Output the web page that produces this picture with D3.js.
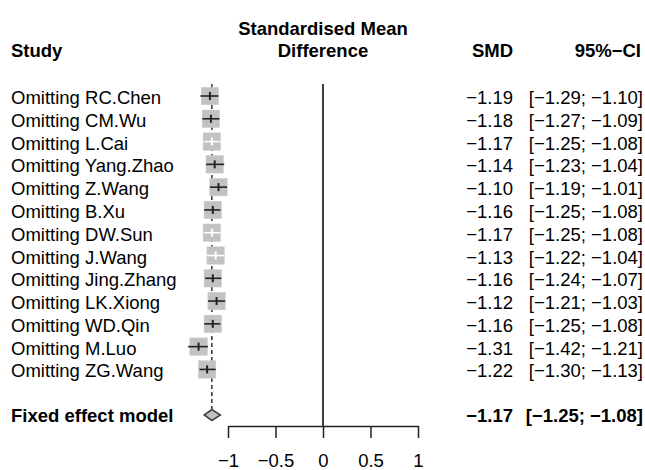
<!DOCTYPE html>
<html>
<head>
<meta charset="utf-8">
<script src="https://cdn.jsdelivr.net/npm/d3@7"></script>
<style>
  html, body { margin: 0; padding: 0; background: #fff; }
  svg { display: block; font-family: "Liberation Sans", Arial, Helvetica, sans-serif; }
</style>
</head>
<body>
<svg id="chart" width="645" height="470"></svg>
<script>
// ---- data ----
const studies = ["RC.Chen", "CM.Wu", "L.Cai", "Yang.Zhao", "Z.Wang", "B.Xu", "DW.Sun",
                 "J.Wang", "Jing.Zhang", "LK.Xiong", "WD.Qin", "M.Luo", "ZG.Wang"];
const smd   = [-1.19, -1.18, -1.17, -1.14, -1.10, -1.16, -1.17, -1.13, -1.16, -1.12, -1.16, -1.31, -1.22];
const ciLow = [-1.29, -1.27, -1.25, -1.23, -1.19, -1.25, -1.25, -1.22, -1.24, -1.21, -1.25, -1.42, -1.30];
const ciHigh= [-1.10, -1.09, -1.08, -1.04, -1.01, -1.08, -1.08, -1.04, -1.07, -1.03, -1.08, -1.21, -1.13];
// CI contained inside the box (drawn in white in the reference)
const ciInsideBox = [false, false, true, false, false, false, true, true, false, false, false, false, false];
const pooled = { label: "Fixed effect model", smd: -1.17, low: -1.25, high: -1.08 };
const xTicks = [-1, -0.5, 0, 0.5, 1];

// ---- layout ----
const svg = d3.select("#chart");
const FS = 18.5;
const x = d3.scaleLinear().domain([-1, 1]).range([228, 418]);
const y = d3.scaleLinear().domain([0, 14]).range([96, 415]);
const axisY = 426;
const box = 17.5;

const minus = s => s.replace(/-/g, "\u2212");
const fmt = v => minus(v.toFixed(2));
const fmtTick = v => minus(String(v));

// headers
const hdr = svg.append("g").attr("font-weight", "bold").attr("font-size", FS).attr("fill", "#000");
hdr.append("text").attr("x", 11).attr("y", 57).text("Study");
hdr.append("text").attr("x", x(0)).attr("y", 35).attr("text-anchor", "middle").text("Standardised Mean");
hdr.append("text").attr("x", x(0)).attr("y", 57).attr("text-anchor", "middle").text("Difference");
hdr.append("text").attr("x", 513).attr("y", 57).attr("text-anchor", "end").text("SMD");
hdr.append("text").attr("x", 641).attr("y", 57).attr("text-anchor", "end").text("95%\u2212CI");

// reference line at 0
svg.append("line")
  .attr("x1", x(0)).attr("x2", x(0))
  .attr("y1", 84).attr("y2", axisY)
  .attr("stroke", "#000").attr("stroke-width", 1.5);

// dashed pooled line
svg.append("line")
  .attr("x1", x(pooled.smd)).attr("x2", x(pooled.smd))
  .attr("y1", 84).attr("y2", y(14) - 6)
  .attr("stroke", "#333").attr("stroke-width", 1.5)
  .attr("stroke-dasharray", "4,3");

// study rows
const rows = svg.append("g");
studies.forEach((s, i) => {
  const cy = y(i);
  rows.append("text").attr("x", 11).attr("y", cy + 8)
    .attr("font-size", FS).attr("fill", "#000").text("Omitting " + s);
  rows.append("rect")
    .attr("x", x(smd[i]) - box / 2).attr("y", cy - box / 2)
    .attr("width", box).attr("height", box)
    .attr("fill", "#c2c2c2").attr("stroke", "#d0d0d0").attr("stroke-width", 0.5);
  const col = ciInsideBox[i] ? "#ffffff" : "#222";
  rows.append("line")
    .attr("x1", x(ciLow[i])).attr("x2", x(ciHigh[i]))
    .attr("y1", cy).attr("y2", cy)
    .attr("stroke", col).attr("stroke-width", 1.6);
  rows.append("line")
    .attr("x1", x(smd[i])).attr("x2", x(smd[i]))
    .attr("y1", cy - 4).attr("y2", cy + 4)
    .attr("stroke", col).attr("stroke-width", 2);
  rows.append("text").attr("x", 513).attr("y", cy + 8).attr("text-anchor", "end")
    .attr("font-size", FS).attr("fill", "#000").text(fmt(smd[i]));
  rows.append("text").attr("x", 643).attr("y", cy + 8).attr("text-anchor", "end")
    .attr("font-size", FS).attr("fill", "#000")
    .text("[" + fmt(ciLow[i]) + "; " + fmt(ciHigh[i]) + "]");
});

// pooled row
const py = y(14);
svg.append("text").attr("x", 11).attr("y", py + 7)
  .attr("font-size", FS).attr("font-weight", "bold").attr("fill", "#000").text(pooled.label);
svg.append("path")
  .attr("d", `M${x(pooled.low)},${py} L${x(pooled.smd)},${py - 5.5} L${x(pooled.high)},${py} L${x(pooled.smd)},${py + 5.5} Z`)
  .attr("fill", "#c2c2c2").attr("stroke", "#444").attr("stroke-width", 1.6);
svg.append("text").attr("x", 513).attr("y", py + 7).attr("text-anchor", "end")
  .attr("font-size", FS).attr("font-weight", "bold").attr("fill", "#000").text(fmt(pooled.smd));
svg.append("text").attr("x", 643).attr("y", py + 7).attr("text-anchor", "end")
  .attr("font-size", FS).attr("font-weight", "bold").attr("fill", "#000")
  .text("[" + fmt(pooled.low) + "; " + fmt(pooled.high) + "]");

// x axis
const axis = d3.axisBottom(x).tickValues(xTicks).tickSize(12).tickSizeOuter(0).tickFormat(fmtTick).tickPadding(16);
const gAxis = svg.append("g").attr("transform", `translate(0,${axisY})`).call(axis);
gAxis.select(".domain").attr("stroke", "#222").attr("stroke-width", 1.5);
gAxis.selectAll(".tick line").attr("stroke", "#222").attr("stroke-width", 1.5);
gAxis.selectAll(".tick text").attr("font-size", FS).attr("fill", "#000")
  .attr("font-family", "\"Liberation Sans\", Arial, sans-serif");
</script>
</body>
</html>
